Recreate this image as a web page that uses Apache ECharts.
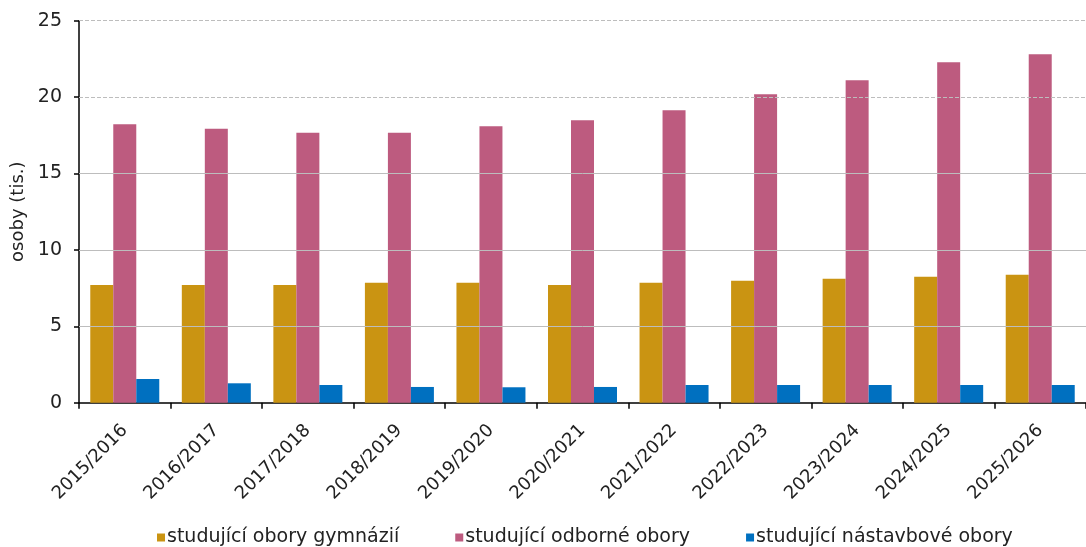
<!DOCTYPE html>
<html>
<head>
<meta charset="utf-8">
<script src="https://cdn.jsdelivr.net/npm/echarts@6/dist/echarts.min.js"></script>
<style>
html,body{margin:0;padding:0;background:#fff;}
#c{width:1086px;height:547px;}
</style>
</head>
<body>
<div id="c"></div>
<script>
var categories = ['2015/2016','2016/2017','2017/2018','2018/2019','2019/2020','2020/2021','2021/2022','2022/2023','2023/2024','2024/2025','2025/2026'];
var seriesNames = ['studující obory gymnázií','studující odborné obory','studující nástavbové obory'];
var gymnazia = [7.70,7.70,7.70,7.85,7.85,7.70,7.85,7.98,8.12,8.25,8.38];
var odborne = [18.22,17.93,17.67,17.67,18.09,18.48,19.14,20.18,21.10,22.28,22.80];
var nastavbove = [1.55,1.27,1.16,1.03,1.01,1.03,1.16,1.16,1.16,1.16,1.16];
var yTicks = [0,5,10,15,20,25];
var dashedTicks = [20,25];
var colors = ['#CA9412','#BD5B7F','#0070C0'];

var font = 'DejaVu Sans, Verdana, sans-serif';
var chart = echarts.init(document.getElementById('c'), null, {renderer:'canvas'});
function bar(name, data, color){
  return {name:name, type:'bar', data:data, barWidth:23, barGap:'0%', z:3,
    itemStyle:{color:color}};
}
var gridLines = yTicks.filter(function(v){return v>0;}).map(function(v){
  return {yAxis:v, lineStyle:{color:'#bdbdbd', width:1,
    type: dashedTicks.indexOf(v)>=0 ? [4,2] : 'solid'}};
});
chart.setOption({
  animation:false,
  color: colors,
  grid:{left:79, top:20.7, width:1012, height:382, containLabel:false},
  legend:{
    top:523, left:152, itemWidth:8, itemHeight:8, itemGap:56,
    icon:'rect',
    textStyle:{fontFamily:font, fontSize:19, color:'#222', padding:[0,0,0,-3]},
    data: seriesNames
  },
  xAxis:{
    type:'category', data:categories,
    axisLine:{lineStyle:{color:'#000', width:1.5}},
    axisTick:{show:true, length:6, lineStyle:{color:'#000', width:1.5}},
    axisLabel:{rotate:45, fontFamily:font, fontSize:18, color:'#222', margin:25}
  },
  yAxis:{
    type:'value', min:yTicks[0], max:yTicks[yTicks.length-1], interval:5,
    name:'osoby (tis.)', nameLocation:'middle', nameRotate:90, nameGap:51,
    nameTextStyle:{fontFamily:font, fontSize:18, color:'#222'},
    axisLine:{show:true, lineStyle:{color:'#000', width:1.5}},
    axisTick:{show:true, length:5, lineStyle:{color:'#000', width:1.5}},
    axisLabel:{fontFamily:font, fontSize:19, color:'#222', margin:17},
    splitLine:{show:false}
  },
  series:[
    {name:'grid', type:'line', z:1, data:[], silent:true,
      markLine:{symbol:'none', silent:true, label:{show:false}, animation:false, data:gridLines}},
    bar(seriesNames[0], gymnazia, colors[0]),
    bar(seriesNames[1], odborne, colors[1]),
    bar(seriesNames[2], nastavbove, colors[2])
  ]
});
</script>
</body>
</html>
